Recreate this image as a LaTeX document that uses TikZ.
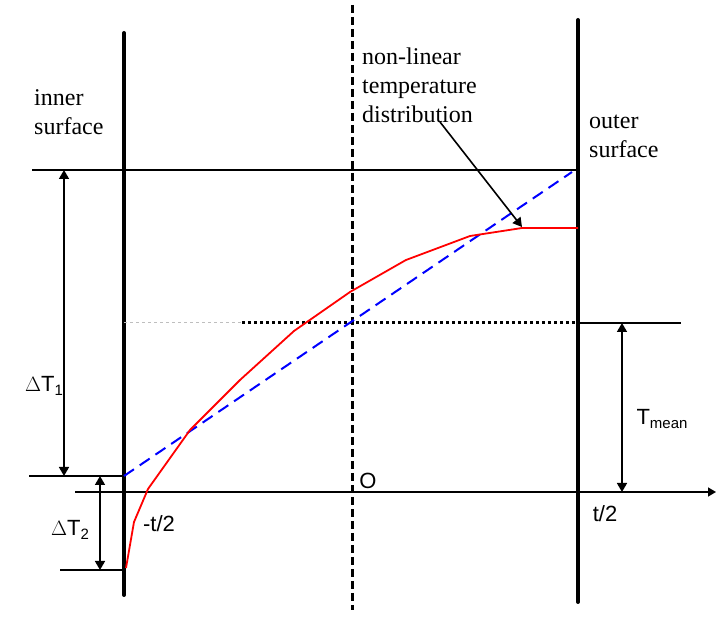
\documentclass[tikz,border=0pt]{standalone}
\usepackage{fontspec}
\setmainfont{Liberation Serif}
\setsansfont{Liberation Sans}
\usetikzlibrary{arrows.meta,positioning}
\definecolor{curve}{RGB}{255,0,0}
\definecolor{linear}{RGB}{0,0,255}
\definecolor{faint}{RGB}{190,190,190}
\newcommand{\lowsub}[1]{\raisebox{-0.35ex}{\fontsize{15}{15}\selectfont #1}}
\tikzset{
  >={Triangle[length=9pt,width=10pt]},
  wall/.style={line width=4pt,line cap=round},
  midplane/.style={line width=3pt,dash pattern=on 8pt off 4pt},
  thin line/.style={line width=1.6pt},
  dim/.style={thin line,<->},
  linear dist/.style={draw=linear,line width=2pt,dash pattern=on 12pt off 7pt},
  nonlinear dist/.style={draw=curve,line width=1.8pt},
  mean level/.style={line width=3pt,dash pattern=on 3pt off 3pt},
  word/.style={font=\rmfamily\fontsize{24}{29}\selectfont,align=left,inner sep=0pt},
  symbol/.style={font=\sffamily\fontsize{22}{22}\selectfont,inner sep=0pt},
}

\begin{document}
\begin{tikzpicture}[x=1pt,y=-1pt]
  \useasboundingbox (0,0) rectangle (716,617);
  % walls, mid plane and axis
  \coordinate (inTop) at (124,33);   \coordinate (inBot) at (124,595);
  \coordinate (outTop) at (578,20);  \coordinate (outBot) at (578,602);
  \coordinate (midTop) at (352,5);   \coordinate (midBot) at (352,610);
  \coordinate (axL) at (75,492);     \coordinate (axR) at (716,492);
  \draw[wall] (inTop) -- (inBot);
  \draw[wall] (outTop) -- (outBot);
  \draw[midplane] (midTop) -- (midBot);
  \draw[thin line,->,>={Triangle[length=8pt,width=9pt]}] (axL) -- (axR);

  % reference levels
  \coordinate (topL) at (32,170);    \coordinate (topR) at (578,170);
  \coordinate (lowL) at (29,476);    \coordinate (lowR) at (124,476);
  \coordinate (botL) at (60,570);    \coordinate (botR) at (124,570);
  \coordinate (meanL) at (578,323);  \coordinate (meanR) at (681,323);
  \coordinate (meanS) at (242,323);  \coordinate (meanW) at (124,323);
  \draw[thin line] (topL) -- (topR);
  \draw[thin line] (lowL) -- (lowR);
  \draw[thin line] (botL) -- (botR);
  \draw[thin line] (meanL) -- (meanR);
  \draw[mean level] (meanS) -- (meanL);
  \draw[faint,line width=1pt,dash pattern=on 3pt off 3pt] (meanW) -- (meanS);

  % dimension arrows
  \coordinate (d1Top) at (64,170);   \coordinate (d1Bot) at (64,476);
  \coordinate (d2Top) at (100,476);  \coordinate (d2Bot) at (100,570);
  \coordinate (tmTop) at (622,323);  \coordinate (tmBot) at (622,492);
  \draw[dim] (d1Top) -- (d1Bot);
  \draw[dim] (d2Top) -- (d2Bot);
  \draw[dim] (tmTop) -- (tmBot);

  % temperature distributions
  \coordinate (linA) at (124,476);   \coordinate (linB) at (572,172);
  \draw[linear dist] (linA) -- (linB);
  \draw[nonlinear dist] (126,568) -- (134,522) -- (148,489) -- (190,430)
    -- (240,380) -- (294,331) -- (350,292) -- (406,260) -- (470,236)
    -- (522,228) -- (578,228);
  \coordinate (tip) at (522,227);

  % labels
  \node[word,anchor=north west] (inner) at (34,89) {inner\\surface};
  \node[word,anchor=north west] (outer) at (589,115) {outer\\surface};
  \node[word,anchor=north west] (nonlin) at (362,48)
    {non-linear\\temperature\\distribution};
  \coordinate (nlFoot) at (440,122);
  \draw[thin line,->] (nlFoot) -- (tip);
  \node[symbol] (dT1) at (44,386) {$\Delta$T\lowsub{1}};
  \node[symbol] (dT2) at (70,530) {$\Delta$T\lowsub{2}};
  \node[symbol] (tmean) at (662,419) {T\lowsub{mean}};
  \node[symbol] (origin) at (368,481) {O};
  \node[symbol] (tneg) at (159,524) {-t/2};
  \node[symbol] (tpos) at (605,514) {t/2};
\end{tikzpicture}
\end{document}
